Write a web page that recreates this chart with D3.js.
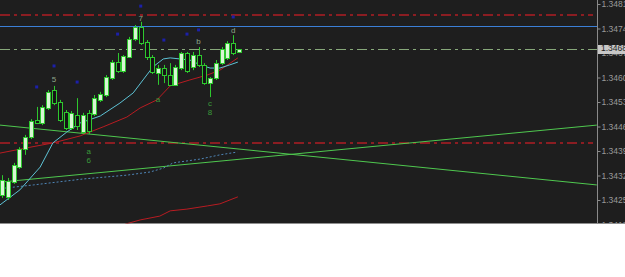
<!DOCTYPE html>
<html><head><meta charset="utf-8">
<script src="https://cdn.jsdelivr.net/npm/d3@7"></script>
<style>html,body{margin:0;padding:0;background:#fff;}svg{display:block}</style>
</head><body><svg id="c" width="625" height="277"></svg>
<script>
// ---- data ----
// candles: [open, high, low, close]
const candles = [
 [1.34264,1.34321,1.34256,1.34307],
 [1.34259,1.34313,1.34250,1.34304],
 [1.34301,1.34356,1.34296,1.34350],
 [1.34344,1.34401,1.34339,1.34396],
 [1.34396,1.34436,1.34379,1.34430],
 [1.34430,1.34481,1.34424,1.34476],
 [1.34479,1.34516,1.34467,1.34470],
 [1.34470,1.34521,1.34464,1.34516],
 [1.34513,1.34564,1.34507,1.34559],
 [1.34564,1.34576,1.34521,1.34527],
 [1.34530,1.34536,1.34473,1.34479],
 [1.34501,1.34507,1.34450,1.34456],
 [1.34456,1.34504,1.34450,1.34499],
 [1.34493,1.34541,1.34450,1.34461],
 [1.34444,1.34499,1.34439,1.34493],
 [1.34499,1.34507,1.34439,1.34447],
 [1.34496,1.34550,1.34490,1.34541],
 [1.34536,1.34559,1.34530,1.34553],
 [1.34550,1.34607,1.34544,1.34601],
 [1.34599,1.34650,1.34593,1.34644],
 [1.34644,1.34670,1.34613,1.34619],
 [1.34619,1.34664,1.34613,1.34661],
 [1.34659,1.34716,1.34656,1.34710],
 [1.34710,1.34750,1.34704,1.34744],
 [1.34744,1.34759,1.34693,1.34699],
 [1.34701,1.34707,1.34650,1.34659],
 [1.34659,1.34664,1.34610,1.34616],
 [1.34613,1.34636,1.34579,1.34627],
 [1.34627,1.34636,1.34584,1.34607],
 [1.34607,1.34641,1.34576,1.34579],
 [1.34579,1.34636,1.34576,1.34630],
 [1.34627,1.34673,1.34621,1.34670],
 [1.34670,1.34673,1.34613,1.34619],
 [1.34630,1.34673,1.34621,1.34664],
 [1.34664,1.34687,1.34630,1.34636],
 [1.34636,1.34641,1.34579,1.34584],
 [1.34584,1.34601,1.34544,1.34599],
 [1.34599,1.34650,1.34593,1.34641],
 [1.34641,1.34687,1.34636,1.34681],
 [1.34656,1.34704,1.34650,1.34699],
 [1.34699,1.34721,1.34664,1.34670],
 [1.34673,1.34681,1.34670,1.34681]
];
const priceTicks = [1.34810,1.34740,1.34670,1.34600,1.34530,1.34460,1.34390,1.34320,1.34250,1.34180];
const bidPrice = 1.34681;
const redLevels = [1.34779, 1.34412];
const blueLevel = 1.34747;
// trend lines: [[barIndex, price],[barIndex, price]]
const trendDown = [[-0.35,1.34464],[102.9,1.34293]];
const trendUp   = [[-0.35,1.34301],[102.9,1.34464]];
// moving averages: [barIndex, price]
const maCyan = [[-0.35,1.34236],[3.1,1.34279],[6.6,1.34344],[8.8,1.34413],[11.2,1.34444],[13.5,1.34470],[17,1.34490],[20.4,1.34527],[22.7,1.34556],[24.4,1.34593],[26.1,1.34630],[27.9,1.34653],[29.1,1.34656],[30.8,1.34653],[32.5,1.34650],[34.3,1.34636],[36,1.34627],[37.7,1.34627],[39.4,1.34636],[40.8,1.34644]];
const maRed = [[-0.35,1.34384],[4.3,1.34399],[8.8,1.34413],[13.5,1.34433],[17.5,1.34459],[21.6,1.34487],[23.9,1.34513],[26.8,1.34536],[29.1,1.34576],[32.5,1.34593],[35.5,1.34607],[37.7,1.34621],[40.8,1.34656]];
const maDotted = [[0.5,1.34284],[5.4,1.34293],[14,1.34310],[21.6,1.34321],[25.6,1.34330],[27.9,1.34341],[29.6,1.34356],[34.3,1.34367],[37.7,1.34379],[40.7,1.34387]];
const maLowRed = [[21.3,1.34181],[23.9,1.34193],[27.3,1.34204],[29.1,1.34219],[32,1.34224],[35.5,1.34233],[37.7,1.34239],[40.8,1.34259]];
// fractal marks [barIndex, price]
const marks = [[6,1.34573],[9,1.34633],[13,1.34587],[20,1.34724],[24,1.34804],[28,1.34707],[32,1.34724],[34,1.34736],[40,1.34773]];
// wave labels [barIndex, price, text]
const waveLabels = [[9,1.34593,"5"],[15,1.34387,"a"],[15,1.34361,"6"],[24,1.34767,"7"],[27,1.34536,"a"],[34,1.34701,"b"],[36,1.34526,"c"],[36,1.34500,"8"],[40,1.34733,"d"]];

// ---- drawing ----
const W = 625, plotR = 597, plotB = 223.5;
const svg = d3.select("#c");
const x = d3.scaleLinear().domain([0, 41]).range([2, 239]);
const y = d3.scaleLinear().domain([1.34180, 1.34810]).range([224.5, 4]);

svg.append("rect").attr("x",0).attr("y",0).attr("width",W).attr("height",plotB).attr("fill","#1e1e1e");
const defs = svg.append("defs");
defs.append("clipPath").attr("id","pc").append("rect").attr("x",0).attr("y",0).attr("width",plotR).attr("height",plotB);
defs.append("clipPath").attr("id","ac").append("rect").attr("x",plotR).attr("y",0).attr("width",W-plotR).attr("height",plotB);

const g = svg.append("g").attr("clip-path","url(#pc)");
const line = d3.line().x(d=>x(d[0])).y(d=>y(d[1]));

// horizontal levels
redLevels.forEach(p=>{
  const yy = Math.round(y(p));
  g.append("path").attr("d",`M0,${yy}H${plotR-4}`)
   .style("stroke","rgb(176,30,36)").style("stroke-width","1.6px").style("stroke-dasharray","10 4 3 4").style("fill","none");
});
g.append("path").attr("d",`M0,${Math.round(y(blueLevel))+0.5}H${plotR}`)
  .style("stroke","rgb(59,127,214)").style("stroke-width","1px").style("fill","none");
g.append("path").attr("d",`M0,${Math.round(y(bidPrice))+0.5}H${plotR}`)
  .style("stroke","rgb(135,168,122)").style("stroke-width","1px").style("stroke-dasharray","10 4 3 4").style("fill","none");

// trend lines
[trendDown, trendUp].forEach(t=>g.append("path").attr("d",line(t)).attr("fill","none").attr("stroke","#4fc84f").attr("stroke-width",1));

// moving averages
g.append("path").attr("d",line(maDotted)).attr("fill","none").attr("stroke","#4f86b8").attr("stroke-width",1).attr("stroke-dasharray","2,2");
g.append("path").attr("d",line(maLowRed)).attr("fill","none").attr("stroke","#b81c22").attr("stroke-width",1);
g.append("path").attr("d",line(maRed)).attr("fill","none").attr("stroke","#b81c22").attr("stroke-width",1);
g.append("path").attr("d",line(maCyan)).attr("fill","none").attr("stroke","#5ec3d6").attr("stroke-width",1);

// candles
const cg = g.append("g");
candles.forEach((c,i)=>{
  const cx = Math.round(x(i));
  const [o,h,l,cl] = c;
  const bull = cl >= o;
  cg.append("line").attr("x1",cx+0.5).attr("x2",cx+0.5).attr("y1",y(h)).attr("y2",y(l)).attr("stroke","#2ec82e").attr("stroke-width",1);
  const top = Math.round(y(Math.max(o,cl))), bot = Math.round(y(Math.min(o,cl)));
  cg.append("rect").attr("x",cx-1.5).attr("y",top+0.5).attr("width",4).attr("height",Math.max(bot-top,1))
    .attr("fill",bull?"#d8f6d4":"#141414").attr("stroke","#2ec82e").attr("stroke-width",1);
});

// fractal marks
g.selectAll(".mk").data(marks).enter().append("rect").attr("x",d=>x(d[0])-1.5).attr("y",d=>y(d[1])-1.5)
  .attr("width",3).attr("height",3).attr("fill","#1c20a8");

// wave labels
g.selectAll(".wl").data(waveLabels).enter().append("text").attr("x",d=>x(d[0])).attr("y",d=>y(d[1]))
  .attr("text-anchor","middle").attr("dominant-baseline","middle")
  .attr("font-family","Liberation Sans, Arial, sans-serif").attr("font-size",8)
  .attr("fill",d=>(d[2]==="c"||d[2]==="8"||d[2]==="6"||d[2]==="a")?"#3a9a3a":"#8fa58a").text(d=>d[2]);

// axis
const ag = svg.append("g").attr("clip-path","url(#ac)");
svg.append("line").attr("x1",plotR+0.5).attr("x2",plotR+0.5).attr("y1",0).attr("y2",plotB).attr("stroke","#8a8a8a");
const axis = d3.axisRight(y).tickValues(priceTicks).tickSize(3).tickFormat(d3.format(".5f"));
const axG = ag.append("g").attr("transform",`translate(${plotR+0.5},0)`).call(axis);
axG.select(".domain").remove();
axG.selectAll("line").attr("stroke","#8a8a8a");
axG.selectAll("text").attr("fill","#9a9a9a").attr("font-family","Liberation Sans, Arial, sans-serif").attr("font-size",8.5).attr("x",4);

// bid price label
const by = Math.round(y(bidPrice));
ag.append("rect").attr("x",plotR+1).attr("y",by-4).attr("width",W-plotR).attr("height",9).attr("fill","#c8c8c8");
ag.append("text").attr("x",plotR+4).attr("y",by).attr("dominant-baseline","middle").attr("fill","#1e1e1e")
  .attr("font-family","Liberation Sans, Arial, sans-serif").attr("font-size",8.5).text(d3.format(".5f")(bidPrice));
</script></body></html>
